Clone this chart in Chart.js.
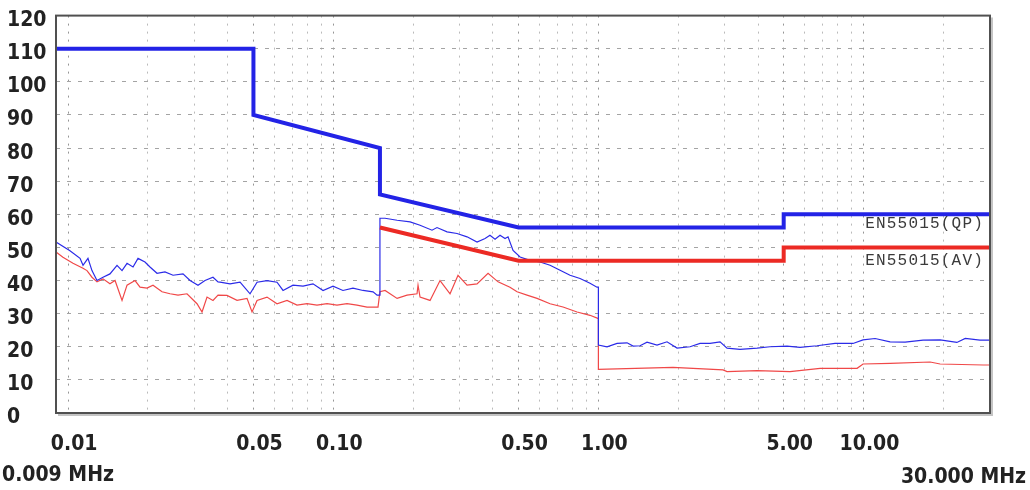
<!DOCTYPE html>
<html>
<head>
<meta charset="utf-8">
<title>EN55015 conducted emission</title>
<script src="https://cdn.jsdelivr.net/npm/chart.js@4.4.1/dist/chart.umd.min.js"></script>
<style>
  html, body { margin: 0; padding: 0; background: #fff; }
  #wrap { width: 1030px; height: 490px; position: relative; }
</style>
</head>
<body>
<div id="wrap"><canvas id="emiChart"></canvas></div>
<script>
// limit lines (MHz / dBuV)
const limitQpFreq = [0.009, 0.05, 0.05, 0.15, 0.15, 0.5, 5, 5, 30];
const limitQpLevel = [110, 110, 90, 80, 66, 56, 56, 60, 60];
const limitAvFreq = [0.15, 0.5, 5, 5, 30];
const limitAvLevel = [56, 46, 46, 50, 50];

// measured quasi-peak trace (blue)
const qpFreq = [0.009, 0.01016, 0.01109, 0.01138, 0.01188, 0.0123, 0.01285, 0.01354, 0.01438, 0.01529,
  0.01597, 0.01668, 0.01757, 0.01835, 0.01949, 0.02036, 0.02164, 0.02319, 0.02487, 0.02712,
  0.02883, 0.03089, 0.03283, 0.03519, 0.03676, 0.0374, 0.0408, 0.04451, 0.04854, 0.05159,
  0.05626, 0.06136, 0.06465, 0.07051, 0.0769, 0.08388, 0.09152, 0.09981, 0.1088, 0.1187,
  0.1295, 0.1413, 0.1463, 0.15, 0.15, 0.1568, 0.1741, 0.1949, 0.2125, 0.2358,
  0.2462, 0.2687, 0.293, 0.3196, 0.3486, 0.3738, 0.39, 0.4076, 0.4256, 0.4446,
  0.4563, 0.4766, 0.5065, 0.5524, 0.6026, 0.6573, 0.717, 0.7819, 0.8528, 0.93,
  0.988, 1.0, 1.0, 1.078, 1.176, 1.283, 1.352, 1.436, 1.526, 1.664,
  1.815, 1.98, 2.217, 2.418, 2.638, 2.877, 3.057, 3.42, 3.969, 4.44,
  5.148, 5.76, 6.68, 7.81, 9.13, 9.96, 11.06, 12.6, 14.35, 16.78,
  19.45, 22.5, 24.2, 27.5, 30];
const qpLevel = [51.6, 49, 46.7, 44.6, 46.7, 43, 40, 41, 42, 44.6,
  43, 45.2, 44.1, 46.7, 45.6, 44.1, 42.2, 42.6, 41.6, 42,
  40, 38.6, 40, 41, 39.6, 39.5, 39, 39.5, 36, 39.5,
  40, 39.5, 37, 38.6, 38.3, 39, 37, 38.3, 37, 37.7,
  37, 36.6, 35.6, 35.6, 58.8, 58.8, 58.2, 57.7, 56.7, 55.2,
  56, 54.7, 54.2, 53.2, 51.6, 52.7, 53.7, 52.5, 53.7, 52.7,
  53.2, 49.1, 47.1, 46.1, 45.6, 44.6, 43.1, 41.6, 40.6, 39.2,
  38, 38, 20.5, 20, 21, 21.2, 20.2, 20.3, 21.4, 20.5,
  21.5, 19.6, 20, 21, 21, 21.5, 19.6, 19.2, 19.6, 20,
  20.2, 19.8, 20.3, 21, 21, 22.1, 22.5, 21.5, 21.4, 22,
  22.1, 21.3, 22.5, 22, 22];

// measured average trace (red)
const avFreq = [0.009, 0.00956, 0.01043, 0.01138, 0.01178, 0.0123, 0.01285, 0.01354, 0.01438, 0.01503,
  0.01597, 0.01668, 0.01788, 0.01867, 0.01983, 0.0209, 0.0226, 0.02423, 0.02597, 0.02808,
  0.03063, 0.03199, 0.03341, 0.03519, 0.03676, 0.03974, 0.04336, 0.04729, 0.04939, 0.05159,
  0.05626, 0.06136, 0.06693, 0.073, 0.07963, 0.08684, 0.09476, 0.1033, 0.1127, 0.1229,
  0.1341, 0.1475, 0.15, 0.1568, 0.1741, 0.1898, 0.207, 0.2088, 0.2125, 0.2318,
  0.2528, 0.2757, 0.2955, 0.3196, 0.3486, 0.3836, 0.4184, 0.464, 0.4935, 0.538,
  0.5872, 0.6573, 0.7358, 0.8309, 0.93, 0.995, 1.0, 1.0, 1.912, 2.953,
  3.057, 3.969, 5.28, 6.86, 9.46, 9.96, 12.6, 17.84, 19.45, 28.3, 30];
const avLevel = [48.6, 47, 45.2, 43.7, 43, 41, 39.6, 40.5, 39, 40,
  34, 38.6, 40, 38, 37.7, 38.6, 36.6, 36, 35.6, 36,
  33, 30.5, 35, 34, 35.6, 35.5, 34, 34.6, 30.5, 34,
  35, 33, 34, 32.6, 33, 32.6, 33, 32.6, 33, 32.6,
  32, 32, 36.6, 37, 34.6, 35.6, 36, 38.6, 35, 34,
  40, 36, 41.6, 38.6, 39, 42.2, 39.6, 38, 36.6, 35.6,
  34.6, 33, 32, 30.5, 29.5, 28.6, 28.6, 13.2, 13.8, 13,
  12.5, 12.8, 12.5, 13.5, 13.5, 14.8, 15, 15.4, 14.8, 14.5, 14.5];

// axes
const xGridValues = [0.01, 0.02, 0.03, 0.04, 0.05, 0.06, 0.07, 0.08, 0.09,
  0.1, 0.2, 0.3, 0.4, 0.5, 0.6, 0.7, 0.8, 0.9,
  1, 2, 3, 4, 5, 6, 7, 8, 9, 10, 20, 30];
const xTickValues = [0.01, 0.05, 0.1, 0.5, 1, 5, 10];
const xTickLabels = ['0.01', '0.05', '0.10', '0.50', '1.00', '5.00', '10.00'];
const xRangeLabels = ['0.009 MHz', '30.000 MHz'];
const limitNames = ['EN55015(QP)', 'EN55015(AV)'];
const limitNameLevels = [57, 46];

const tickFont = { family: "'DejaVu Sans Condensed', 'DejaVu Sans', sans-serif", size: 21, weight: 'bold' };

function toPoints(xs, ys) {
    return xs.map((x, i) => ({ x: x, y: ys[i] }));
}

// frame + limit names + range labels
const decorPlugin = {
    id: 'decor',
    afterDatasetsDraw(chart) {
        const ctx = chart.ctx;
        const a = chart.chartArea;
        const ys = chart.scales.y;
        ctx.save();
        ctx.strokeStyle = '#c4c4c4';
        ctx.lineWidth = 2;
        ctx.beginPath();
        ctx.moveTo(a.right + 2, a.top + 2);
        ctx.lineTo(a.right + 2, a.bottom + 2);
        ctx.lineTo(a.left + 2, a.bottom + 2);
        ctx.stroke();
        ctx.strokeStyle = '#505050';
        ctx.lineWidth = 2;
        ctx.strokeRect(a.left, a.top, a.right - a.left, a.bottom - a.top);

        ctx.fillStyle = '#3a3a3a';
        ctx.font = '16px "Liberation Mono", monospace';
        ctx.letterSpacing = '1.2px';
        ctx.textAlign = 'right';
        ctx.textBaseline = 'middle';
        limitNames.forEach((name, i) => {
            ctx.fillText(name, a.right - 6, ys.getPixelForValue(limitNameLevels[i]));
        });
        ctx.letterSpacing = '0px';

        ctx.fillStyle = '#222';
        ctx.font = "bold 21px 'DejaVu Sans Condensed', 'DejaVu Sans', sans-serif";
        ctx.textAlign = 'left';
        ctx.fillText(xRangeLabels[0], 2, 476);
        ctx.textAlign = 'right';
        ctx.fillText(xRangeLabels[1], 1026, 478);
        ctx.restore();
    }
};

function chart() {
    const ctx = document.getElementById('emiChart').getContext('2d');
    new Chart(ctx, {
        type: 'line',
        data: {
            datasets: [
                {
                    label: 'QP limit',
                    data: toPoints(limitQpFreq, limitQpLevel),
                    borderColor: '#2323e6',
                    borderWidth: 4
                },
                {
                    label: 'AV limit',
                    data: toPoints(limitAvFreq, limitAvLevel),
                    borderColor: '#ec2a24',
                    borderWidth: 4
                },
                {
                    label: 'QP',
                    data: toPoints(qpFreq, qpLevel),
                    borderColor: '#2b2be8',
                    borderWidth: 1.2
                },
                {
                    label: 'AV',
                    data: toPoints(avFreq, avLevel),
                    borderColor: '#f04848',
                    borderWidth: 1.2
                }
            ]
        },
        options: {
            responsive: false,
            animation: false,
            elements: {
                point: { radius: 0 },
                line: { tension: 0, fill: false }
            },
            layout: { padding: { left: 7, top: 15, right: 40, bottom: 0 } },
            plugins: {
                legend: { display: false },
                tooltip: { enabled: false }
            },
            scales: {
                x: {
                    type: 'logarithmic',
                    min: 0.009,
                    max: 30,
                    afterBuildTicks: scale => {
                        scale.ticks = xGridValues.map(v => ({ value: v }));
                    },
                    afterFit: scale => { scale.height = 77; },
                    border: { display: false, dash: [2, 6] },
                    grid: {
                        drawTicks: false,
                        color: c => (c.tick && xTickValues.indexOf(c.tick.value) >= 0) ? '#969696' : '#bababa',
                        lineWidth: 1
                    },
                    ticks: {
                        autoSkip: false,
                        maxRotation: 0,
                        minRotation: 0,
                        padding: 19,
                        labelOffset: 6,
                        color: '#222',
                        font: tickFont,
                        callback: value => {
                            const k = xTickValues.indexOf(value);
                            return k >= 0 ? xTickLabels[k] : '';
                        }
                    }
                },
                y: {
                    min: 0,
                    max: 120,
                    afterFit: scale => { scale.width = 49; },
                    border: { display: false, dash: [4, 7] },
                    grid: {
                        drawTicks: false,
                        color: '#a4a4a4',
                        lineWidth: 1
                    },
                    ticks: {
                        stepSize: 10,
                        crossAlign: 'far',
                        labelOffset: 5,
                        color: '#222',
                        font: tickFont
                    }
                }
            }
        },
        plugins: [decorPlugin]
    });
}

window.onload = function () {
    const c = document.getElementById('emiChart');
    c.width = 1030;
    c.height = 490;
    chart();
};
</script>
</body>
</html>
